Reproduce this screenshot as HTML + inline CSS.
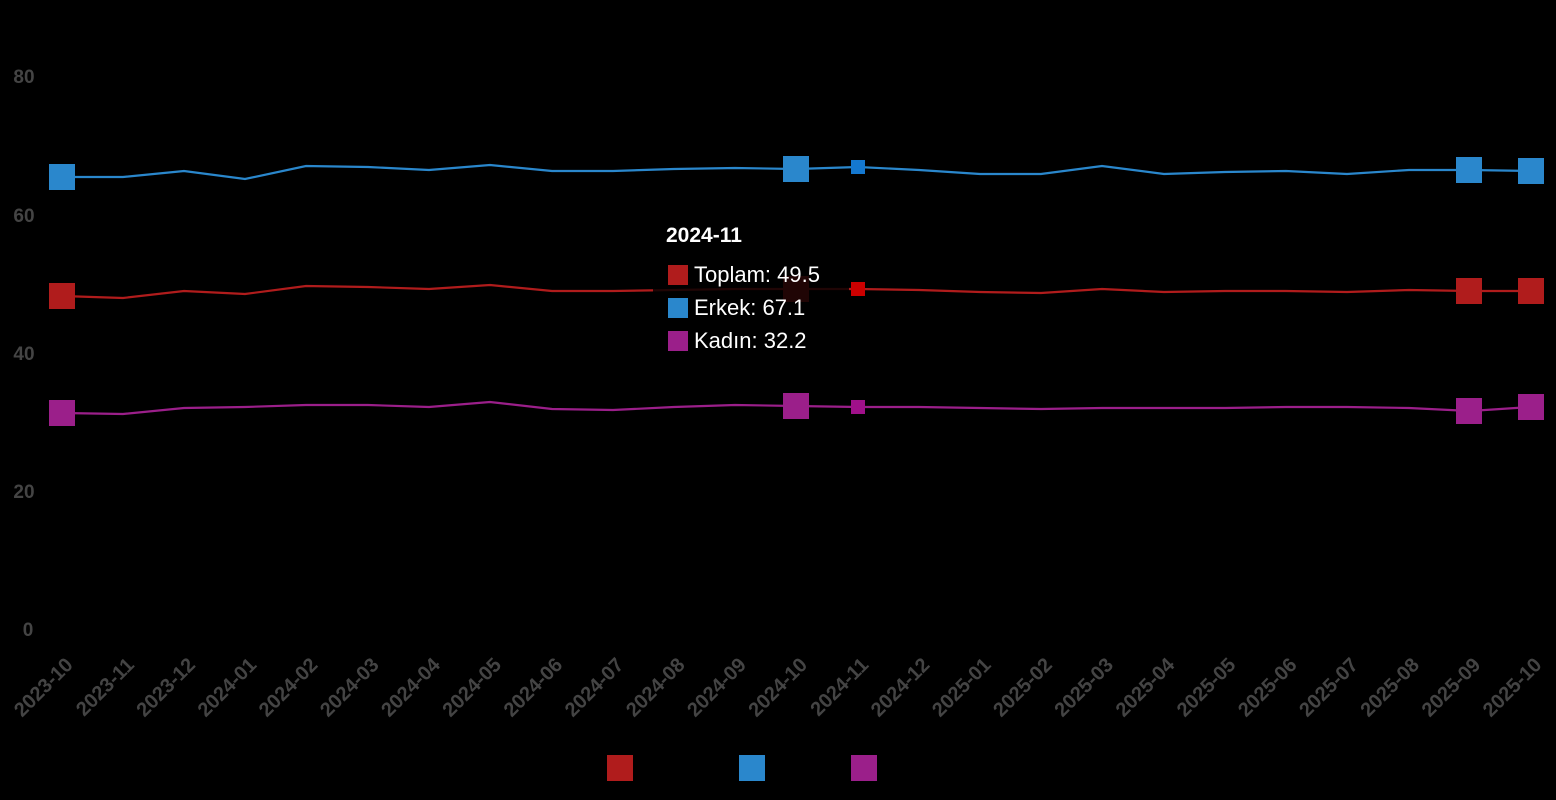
<!DOCTYPE html>
<html><head><meta charset="utf-8"><style>
html,body{margin:0;padding:0;background:#000;}
svg{display:block;font-family:"Liberation Sans",sans-serif;}
</style></head><body>
<svg width="1556" height="800" viewBox="0 0 1556 800">
<rect width="1556" height="800" fill="#000"/>
<g fill="#444" font-size="19" font-weight="bold" text-anchor="middle">
<text x="24" y="83">80</text><text x="24" y="222">60</text><text x="24" y="360">40</text><text x="24" y="498">20</text><text x="28" y="636">0</text>
</g>
<g id="xl" fill="#444" font-size="20" font-weight="bold" text-anchor="end"></g>
<polyline fill="none" stroke="#2a87cc" stroke-width="2.2" points="62,177 123,177 184,171 245,179 306,166 368,167 429,170 490,165 552,171 613,171 674,169 735,168 796,169 858,167 919,170 980,174 1041,174 1102,166 1164,174 1225,172 1286,171 1347,174 1409,170 1470,170 1531,171"/>
<polyline fill="none" stroke="#b01c1c" stroke-width="2.2" points="62,296 123,298 184,291 245,294 306,286 368,287 429,289 490,285 552,291 613,291 674,290 735,289 796,289 858,289 919,290 980,292 1041,293 1102,289 1164,292 1225,291 1286,291 1347,292 1409,290 1470,291 1531,291"/>
<polyline fill="none" stroke="#9b1f8a" stroke-width="2.2" points="62,413 123,414 184,408 245,407 306,405 368,405 429,407 490,402 552,409 613,410 674,407 735,405 796,406 858,407 919,407 980,408 1041,409 1102,408 1164,408 1225,408 1286,407 1347,407 1409,408 1470,411 1531,407"/>
<g fill="#2a87cc"><rect x="49" y="164" width="26" height="26"/><rect x="783" y="156" width="26" height="26"/><rect x="1456" y="157" width="26" height="26"/><rect x="1518" y="158" width="26" height="26"/><rect x="851" y="160" width="14" height="14" fill="#1478d0"/></g>
<g fill="#b01c1c"><rect x="49" y="283" width="26" height="26"/><rect x="783" y="276" width="26" height="26"/><rect x="1456" y="278" width="26" height="26"/><rect x="1518" y="278" width="26" height="26"/><rect x="851" y="282" width="14" height="14" fill="#c00"/></g>
<g fill="#9b1f8a"><rect x="49" y="400" width="26" height="26"/><rect x="783" y="393" width="26" height="26"/><rect x="1456" y="398" width="26" height="26"/><rect x="1518" y="394" width="26" height="26"/><rect x="851" y="400" width="14" height="14" fill="#a0108a"/></g>
<rect x="653" y="214" width="196" height="142" fill="rgba(0,0,0,0.82)"/>
<text x="666" y="242" fill="#fff" font-size="21" font-weight="bold">2024-11</text>
<rect x="668" y="265" width="20" height="20" fill="#b01c1c"/><text x="694" y="282" fill="#fff" font-size="22">Toplam: 49.5</text>
<rect x="668" y="298" width="20" height="20" fill="#2a87cc"/><text x="694" y="315" fill="#fff" font-size="22">Erkek: 67.1</text>
<rect x="668" y="331" width="20" height="20" fill="#9b1f8a"/><text x="694" y="348" fill="#fff" font-size="22">Kadın: 32.2</text>
<rect x="607" y="755" width="26" height="26" fill="#b01c1c"/>
<rect x="739" y="755" width="26" height="26" fill="#2a87cc"/>
<rect x="851" y="755" width="26" height="26" fill="#9b1f8a"/>
</svg>
<script>
var g=document.getElementById('xl'),s='';
var labels=[];for(var y=2023,m=10;labels.length<25;){labels.push(y+'-'+(m<10?'0':'')+m);m++;if(m>12){m=1;y++;}}
labels.forEach(function(l,i){var x=62+i*61.2+12,yy=666;s+='<text transform="translate('+x+','+yy+') rotate(-45)">'+l+'</text>';});
g.innerHTML=s;
</script>
</body></html>
